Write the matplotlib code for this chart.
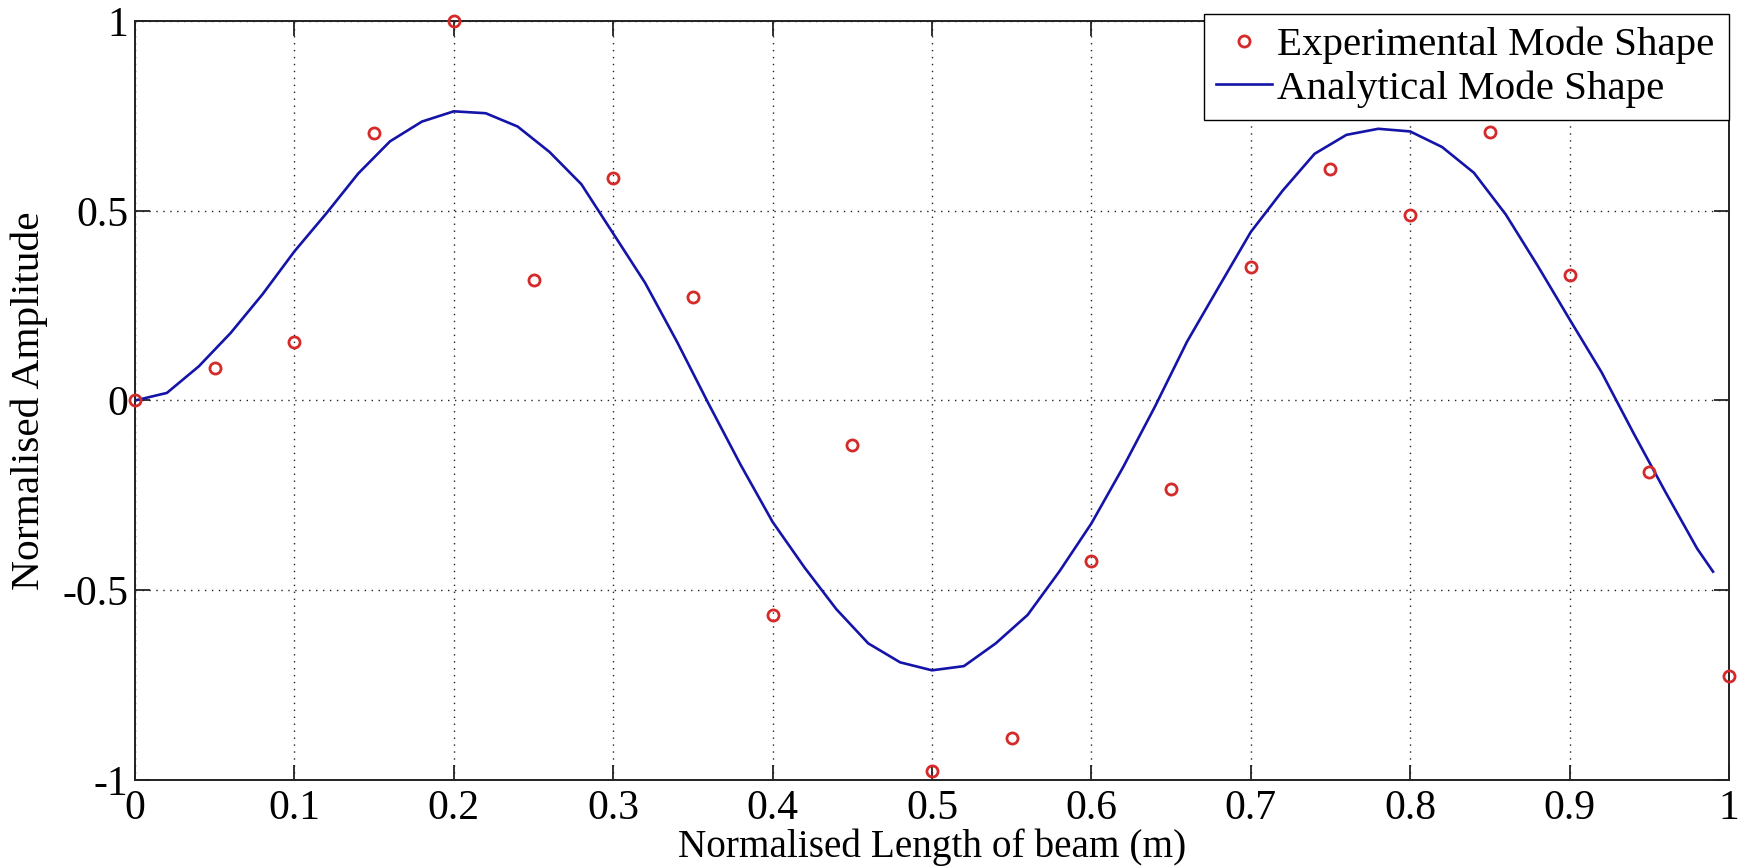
import matplotlib
matplotlib.use('Agg')
import matplotlib.pyplot as plt

plt.rcParams['font.family'] = ['Liberation Serif', 'DejaVu Serif']

# experimental mode shape (measured points)
exp_x = [0.0, 0.05, 0.1, 0.15, 0.2, 0.25, 0.3, 0.35, 0.4, 0.45, 0.5,
         0.55, 0.6, 0.65, 0.7, 0.75, 0.8, 0.85, 0.9, 0.95, 1.0]
exp_y = [0.0, 0.086, 0.154, 0.706, 1.0, 0.317, 0.585, 0.274, -0.566, -0.118, -0.977,
         -0.889, -0.424, -0.233, 0.353, 0.609, 0.489, 0.707, 0.33, -0.188, -0.726]

# analytical mode shape
ana_x = [0.0, 0.02, 0.04, 0.06, 0.08, 0.10, 0.12, 0.14, 0.16, 0.18,
         0.20, 0.22, 0.24, 0.26, 0.28, 0.30, 0.32, 0.34, 0.36, 0.38,
         0.40, 0.42, 0.44, 0.46, 0.48, 0.50, 0.52, 0.54, 0.56, 0.58,
         0.60, 0.62, 0.64, 0.66, 0.68, 0.70, 0.72, 0.74, 0.76, 0.78,
         0.80, 0.82, 0.84, 0.86, 0.88, 0.90, 0.92, 0.94, 0.96, 0.98, 0.99]
ana_y = [0.0, 0.02, 0.09, 0.178, 0.28, 0.393, 0.493, 0.598, 0.683, 0.735,
         0.762, 0.757, 0.722, 0.655, 0.57, 0.44, 0.31, 0.155, -0.01, -0.17,
         -0.32, -0.44, -0.55, -0.64, -0.69, -0.711, -0.70, -0.64, -0.565, -0.45,
         -0.324, -0.175, -0.015, 0.155, 0.30, 0.444, 0.553, 0.65, 0.70, 0.716,
         0.709, 0.668, 0.60, 0.49, 0.355, 0.214, 0.075, -0.085, -0.24, -0.39, -0.451]

x_ticks = [0, 0.1, 0.2, 0.3, 0.4, 0.5, 0.6, 0.7, 0.8, 0.9, 1]
x_tick_labels = ['0', '0.1', '0.2', '0.3', '0.4', '0.5', '0.6', '0.7', '0.8', '0.9', '1']
y_ticks = [-1, -0.5, 0, 0.5, 1]
y_tick_labels = ['-1', '-0.5', '0', '0.5', '1']

fig = plt.figure(figsize=(17.38, 8.68), dpi=100)
ax = fig.add_axes([0.0777, 0.1014, 0.9171, 0.8744])

ax.plot(exp_x, exp_y, 'o', color='#d42a2a', markerfacecolor='none',
        markersize=8, markeredgewidth=2.0, label='Experimental Mode Shape',
        clip_on=False, zorder=4)
ax.plot(ana_x, ana_y, '-', color='#1414a8', linewidth=1.9,
        label='Analytical Mode Shape', zorder=3)

ax.set_xlim(0, 1)
ax.set_ylim(-1, 1)
ax.set_xticks(x_ticks)
ax.set_xticklabels(x_tick_labels)
ax.set_yticks(y_ticks)
ax.set_yticklabels(y_tick_labels)

ax.grid(True, color='#222222', linestyle=(0, (1, 4)), linewidth=1.0)
ax.tick_params(direction='in', length=11, width=1.3, top=True, right=True,
               labelsize=30, colors='#222222', labelcolor='black')
ax.tick_params(axis='x', pad=7)
ax.tick_params(axis='y', pad=5)
for s in ax.spines.values():
    s.set_linewidth(1.4)
    s.set_color('#222222')

ax.set_xlabel('Normalised Length of beam (m)', fontsize=28.3, labelpad=0)
ax.set_ylabel('Normalised Amplitude', fontsize=29.8, labelpad=10)

# legend box sits over the top right corner, a little above the axes
leg = ax.legend(loc='upper left', bbox_to_anchor=(0.6706, 0.8669, 0.3294, 0.1423),
                mode='expand', borderaxespad=0,
                fontsize=29.5, frameon=True, fancybox=False, framealpha=1,
                edgecolor='black', handlelength=1.37, handletextpad=0.12,
                borderpad=0.3, labelspacing=0.15)
leg.get_frame().set_linewidth(1.0)

fig.savefig('out.png', dpi=100)
